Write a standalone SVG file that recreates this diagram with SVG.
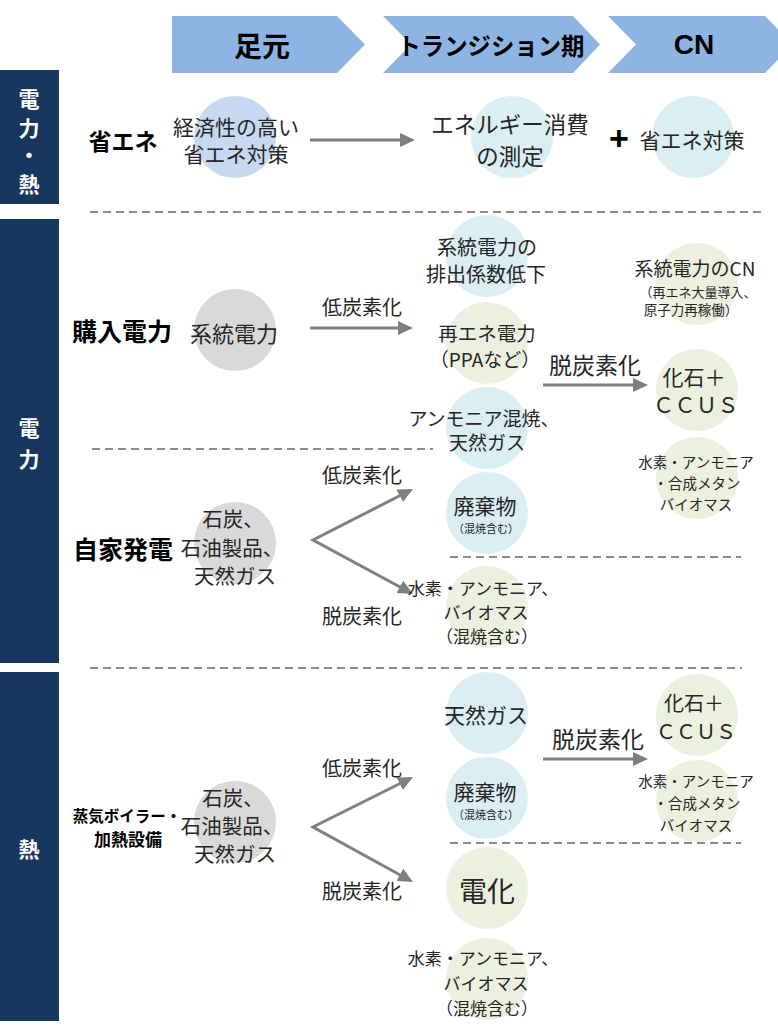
<svg xmlns="http://www.w3.org/2000/svg" width="778" height="1029" viewBox="0 0 778 1029">
<style>
text{font-family:'Noto Sans CJK JP','Noto Sans',sans-serif;fill:#262626;text-anchor:middle;dominant-baseline:central}
.hd{font-weight:bold;fill:#000}
.bar{fill:#17375e}
.bt{fill:#fff;font-weight:bold;font-size:21px}
.lb{font-weight:bold;fill:#000}
.cb{fill:#daeef3}
.cg{fill:#ebf1de}
.cy{fill:#d9d9d9}
.dash{stroke:#8c8c8c;stroke-width:2;stroke-dasharray:8 5;fill:none}
.arr{stroke:#7f7f7f;stroke-width:3;fill:none}
</style>
<defs>
<marker id="ah" viewBox="0 0 15 14" markerWidth="15" markerHeight="14" refX="5" refY="7" markerUnits="userSpaceOnUse" orient="auto-start-reverse">
<path d="M0,0 L15,7 L0,14 z" fill="#7f7f7f"/>
</marker>
</defs>
<rect width="778" height="1029" fill="#fff"/>

<g id="header">
<g id="hdr-ashimoto"><polygon points="172,16 337,16 365,44.5 337,73 172,73" fill="#8eb4e3"/><text x="262" y="45" class="hd" font-size="28">足元</text></g>
<g id="hdr-transition"><polygon points="383,16 573,16 600,44.5 573,73 383,73 411,44.5" fill="#8eb4e3"/><text x="491" y="44" class="hd" font-size="24" textLength="187" lengthAdjust="spacingAndGlyphs">トランジション期</text></g>
<g id="hdr-cn"><polygon points="608,16 765,16 793,44.5 765,73 608,73 636,44.5" fill="#8eb4e3"/><text x="694" y="44" class="hd" font-size="28" style="font-family:'Liberation Sans',sans-serif">CN</text></g>
</g>

<g id="bars">
<g id="bar-denryoku-netsu"><rect class="bar" x="0" y="70" width="59" height="134"/>
<text class="bt" x="29" y="98">電</text><text class="bt" x="29" y="127">力</text><text class="bt" x="29" y="154">・</text><text class="bt" x="29" y="183">熱</text></g>
<g id="bar-denryoku"><rect class="bar" x="0" y="219" width="59" height="444"/>
<text class="bt" x="29" y="427">電</text><text class="bt" x="29" y="458">力</text></g>
<g id="bar-netsu"><rect class="bar" x="0" y="672" width="59" height="349"/>
<text class="bt" x="29" y="848">熱</text></g>
</g>

<g id="separators">
<line class="dash" x1="90" y1="212" x2="763" y2="212"/>
<line class="dash" x1="92" y1="449" x2="433" y2="449"/>
<line class="dash" x1="450" y1="557" x2="741" y2="557"/>
<line class="dash" x1="90" y1="668" x2="742" y2="668"/>
<line class="dash" x1="450" y1="843" x2="741" y2="843"/>
</g>

<g id="connectors">
<path class="arr" d="M310,140 H405" marker-end="url(#ah)"/>
<path class="arr" d="M310,328 H403" marker-end="url(#ah)"/>
<path class="arr" d="M543,385 H638" marker-end="url(#ah)"/>
<path class="arr" d="M404.1,493.5 L313,540 L404.2,589.2" marker-start="url(#ah)" marker-end="url(#ah)"/>
<path class="arr" d="M404.1,781.5 L313,827 L404.2,877.2" marker-start="url(#ah)" marker-end="url(#ah)"/>
<path class="arr" d="M543,759 H638" marker-end="url(#ah)"/>
<text x="362" y="306" font-size="20">低炭素化</text>
<text x="595" y="364" font-size="23">脱炭素化</text>
<text x="362" y="474" font-size="20">低炭素化</text>
<text x="362" y="615" font-size="20">脱炭素化</text>
<text x="362" y="767" font-size="20">低炭素化</text>
<text x="362" y="890" font-size="20">脱炭素化</text>
<text x="598" y="738" font-size="23">脱炭素化</text>
</g>

<g id="label-shoene"><text x="123" y="140" class="lb" font-size="23">省エネ</text></g>
<g id="label-konyu"><text x="122" y="330" class="lb" font-size="25">購入電力</text></g>
<g id="label-jika"><text x="123" y="548" class="lb" font-size="25">自家発電</text></g>
<g id="label-boiler"><text x="127" y="815" class="lb" font-size="15.5">蒸気ボイラー・</text><text x="128" y="838" class="lb" font-size="17">加熱設備</text></g>

<g id="n-shoene-base"><circle cx="235" cy="137" r="41" fill="#c6d9f1"/>
<text x="236" y="126" font-size="21">経済性の高い</text><text x="236" y="153" font-size="21">省エネ対策</text></g>
<g id="n-shoene-trans"><circle cx="512" cy="137" r="41" class="cb"/>
<text x="510" y="123" font-size="22.5">エネルギー消費</text><text x="510" y="155" font-size="22.5">の測定</text></g>
<g id="n-plus"><text x="619" y="138" font-size="34" class="hd" style="font-family:'Liberation Sans',sans-serif">+</text></g>
<g id="n-shoene-cn"><circle cx="693" cy="137" r="41" class="cb"/>
<text x="692" y="139" font-size="21">省エネ対策</text></g>

<g id="n-keito"><circle cx="235" cy="330" r="41" class="cy"/>
<text x="234" y="332" font-size="22">系統電力</text></g>
<g id="n-haishutsu"><circle cx="487" cy="256" r="41" class="cb"/>
<text x="487" y="246" font-size="20">系統電力の</text><text x="486" y="273" font-size="20">排出係数低下</text></g>
<g id="n-saiene"><circle cx="487" cy="343" r="41" class="cg"/>
<text x="487" y="332" font-size="19.5">再エネ電力</text><text x="485" y="358" font-size="19">（PPAなど）</text></g>
<g id="n-ammonia"><circle cx="487" cy="428" r="41" class="cb"/>
<text x="484" y="417" font-size="19">アンモニア混焼、</text><text x="487" y="441" font-size="19">天然ガス</text></g>
<g id="n-keito-cn"><circle cx="697" cy="284" r="41" class="cg"/>
<text x="695" y="267" font-size="19">系統電力のCN</text><text x="698" y="291" font-size="13">（再エネ大量導入、</text><text x="691" y="309" font-size="13.5">原子力再稼働）</text></g>
<g id="n-ccus"><circle cx="697" cy="390" r="41" class="cg"/>
<text x="694" y="376" font-size="21">化石＋</text><text x="696" y="404" font-size="21" letter-spacing="0.5">ＣＣＵＳ</text></g>
<g id="n-h2-cn"><circle cx="697" cy="478" r="41" class="cg"/>
<text x="696" y="461" font-size="14.5">水素・アンモニア</text><text x="697" y="482" font-size="14.5">・合成メタン</text><text x="696" y="503" font-size="14.5">バイオマス</text></g>

<g id="n-fossil-jika"><circle cx="235" cy="543" r="41" class="cy"/>
<text x="233" y="518" font-size="20.5">石炭、</text><text x="232" y="547" font-size="20.5">石油製品、</text><text x="235" y="575" font-size="20.5">天然ガス</text></g>
<g id="n-haikibutsu"><circle cx="487" cy="513" r="41" class="cb"/>
<text x="485" y="505" font-size="21">廃棄物</text><text x="486" y="528" font-size="11">（混焼含む）</text></g>
<g id="n-h2-jika"><circle cx="487" cy="607" r="41" class="cg"/>
<text x="483" y="587" font-size="17">水素・アンモニア、</text><text x="486" y="611" font-size="17">バイオマス</text><text x="487" y="635" font-size="17">（混焼含む）</text></g>

<g id="n-fossil-heat"><circle cx="235" cy="822" r="41" class="cy"/>
<text x="233" y="797" font-size="20.5">石炭、</text><text x="232" y="825" font-size="20.5">石油製品、</text><text x="235" y="853" font-size="20.5">天然ガス</text></g>
<g id="n-gas-heat"><circle cx="487" cy="713" r="41" class="cb"/>
<text x="486" y="714" font-size="21">天然ガス</text></g>
<g id="n-haikibutsu-heat"><circle cx="487" cy="798" r="41" class="cb"/>
<text x="485" y="791" font-size="21">廃棄物</text><text x="486" y="814" font-size="11">（混焼含む）</text></g>
<g id="n-denka"><circle cx="487" cy="888" r="41" class="cg"/>
<text x="487" y="890" font-size="28">電化</text></g>
<g id="n-h2-heat"><circle cx="487" cy="979" r="41" class="cg"/>
<text x="483" y="957" font-size="17">水素・アンモニア、</text><text x="486" y="982" font-size="17">バイオマス</text><text x="487" y="1007" font-size="17">（混焼含む）</text></g>
<g id="n-ccus-heat"><circle cx="697" cy="715" r="41" class="cg"/>
<text x="694" y="702" font-size="20">化石＋</text><text x="696" y="730" font-size="20">ＣＣＵＳ</text></g>
<g id="n-h2-cn-heat"><circle cx="697" cy="801" r="41" class="cg"/>
<text x="696" y="780" font-size="14.5">水素・アンモニア</text><text x="697" y="802" font-size="14.5">・合成メタン</text><text x="696" y="824" font-size="14.5">バイオマス</text></g>
</svg>
